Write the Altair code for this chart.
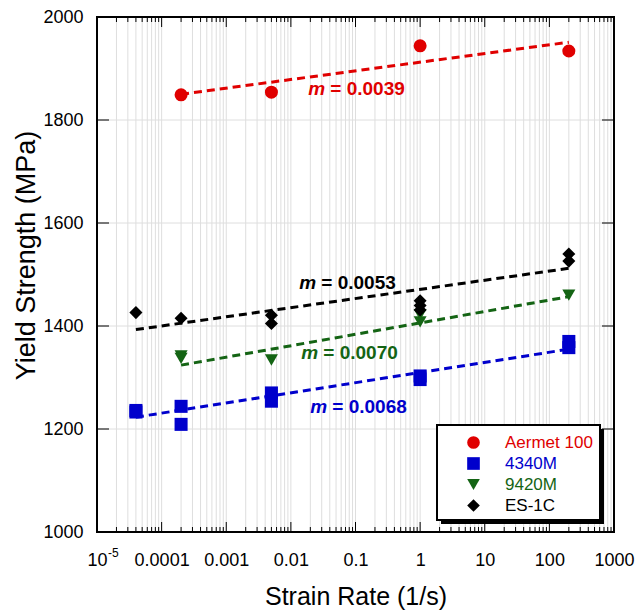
import altair as alt
import pandas as pd

# ---------------- data ----------------
series = ["Aermet 100", "4340M", "9420M", "ES-1C"]
colors = ["#e00000", "#0000cc", "#146414", "#000000"]
shapes = ["circle", "square", "triangle-down", "diamond"]

aermet_rate = [0.0002, 0.005, 1, 200]
aermet_ys = [1849, 1854, 1944, 1934]

m4340_rate = [4e-5, 4e-5, 0.0002, 0.0002, 0.005, 0.005, 1, 1, 200, 200]
m4340_ys = [1233, 1236, 1244, 1209, 1270, 1254, 1303, 1296, 1370, 1358]

m9420_rate = [0.0002, 0.0002, 0.005, 1, 1, 200]
m9420_ys = [1342, 1337, 1334, 1422, 1408, 1460]

es1c_rate = [4e-5, 0.0002, 0.005, 0.005, 1, 1, 1, 200, 200]
es1c_ys = [1426, 1415, 1421, 1405, 1449, 1440, 1431, 1540, 1526]

fit_rate_start = [0.0002, 4e-5, 0.0002, 4e-5]
fit_rate_end = [200, 200, 200, 200]
fit_ys_start = [1850, 1223, 1324, 1393]
fit_ys_end = [1951, 1355, 1457, 1512]

ann_text = ["= 0.0039", "= 0.0068", "= 0.0070", "= 0.0053"]
ann_rate = [0.0186, 0.020, 0.0145, 0.0135]
ann_ys = [1860, 1243, 1348, 1484]

x_ticks = [1e-5, 1e-4, 1e-3, 1e-2, 1e-1, 1, 10, 100, 1000]
x_tick_labels = ["10", "0.0001", "0.001", "0.01", "0.1", "1", "10", "100", "1000"]
x_first_exponent = "-5"
y_ticks = [1000, 1200, 1400, 1600, 1800, 2000]
minor_mult = [2, 3, 4, 5, 6, 7, 8, 9]

# ---------------- tables ----------------
pts = pd.concat([
    pd.DataFrame({"rate": aermet_rate, "ys": aermet_ys, "alloy": series[0]}),
    pd.DataFrame({"rate": m4340_rate, "ys": m4340_ys, "alloy": series[1]}),
    pd.DataFrame({"rate": m9420_rate, "ys": m9420_ys, "alloy": series[2]}),
    pd.DataFrame({"rate": es1c_rate, "ys": es1c_ys, "alloy": series[3]}),
], ignore_index=True)

fits = pd.DataFrame({
    "rate": fit_rate_start + fit_rate_end,
    "ys": fit_ys_start + fit_ys_end,
    "alloy": series + series,
    "col": colors + colors,
})

ann = pd.DataFrame({"rate": ann_rate, "ys": ann_ys, "txt": ann_text, "alloy": series, "col": colors})
sup_df = pd.DataFrame({"rate": [x_ticks[0]], "txt": [x_first_exponent]})

major_inner = pd.DataFrame({"rate": x_ticks[1:-1]})
minor_vals = [m * d for d in x_ticks[:-1] for m in minor_mult]
minor_df = pd.DataFrame({"rate": minor_vals})
all_grid = pd.DataFrame({"rate": x_ticks[1:-1] + minor_vals})
ygrid = pd.DataFrame({"ys": y_ticks[1:-1]})

W, H = 517, 515
FONT = "Liberation Sans"

xscale = alt.Scale(type="log", domain=[1e-5, 1000], nice=False)
yscale = alt.Scale(domain=[1000, 2000], nice=False)
cscale = alt.Scale(domain=series, range=colors)
sscale = alt.Scale(domain=series, range=shapes)

label_expr = "[" + ",".join("'" + s + "'" for s in x_tick_labels) + "][round(log(datum.value)/LN10)+5]"

x_axis = alt.Axis(values=x_ticks, labelExpr=label_expr, grid=False, ticks=False,
                  domain=False, labelFontSize=18, labelPadding=19, labelFont=FONT,
                  titleFont=FONT, titleFontSize=25, titleFontWeight="normal",
                  titlePadding=15, labelColor="black", titleColor="black",
                  labelOverlap=False, labelFlush=False, title="Strain Rate (1/s)")
y_axis = alt.Axis(values=y_ticks, format="d", grid=False, ticks=False, domain=False,
                  labelFontSize=18, labelPadding=14, labelFont=FONT,
                  titleFont=FONT, titleFontSize=27, titleFontWeight="normal",
                  titleX=-71, titleY=238, titleBaseline="middle", titleAlign="center",
                  titleAngle=270,
                  labelColor="black", titleColor="black",
                  labelFlush=False, labelOverlap=False, title="Yield Strength (MPa)")

X = lambda f: alt.X(f + ":Q", scale=xscale, axis=x_axis)
Y = lambda f: alt.Y(f + ":Q", scale=yscale, axis=y_axis)

grid_v = alt.Chart(all_grid).mark_rule(color="#dedede", strokeWidth=1).encode(x=X("rate"))
grid_h = alt.Chart(ygrid).mark_rule(color="#dedede", strokeWidth=1).encode(y=Y("ys"))

def xticks(df, length):
    b = alt.Chart(df).mark_rule(color="black", strokeWidth=1)
    bottom = b.encode(x=X("rate"), y=alt.value(H), y2=alt.value(H - length))
    top = b.encode(x=X("rate"), y=alt.value(0), y2=alt.value(length))
    return [bottom, top]

yt = alt.Chart(ygrid).mark_rule(color="black", strokeWidth=1)
yticks_l = yt.encode(y=Y("ys"), x=alt.value(0), x2=alt.value(12))
yticks_r = yt.encode(y=Y("ys"), x=alt.value(W), x2=alt.value(W - 12))

lines = alt.Chart(fits).mark_line(strokeDash=[8, 5], strokeWidth=3).encode(
    x=X("rate"), y=Y("ys"),
    stroke=alt.Stroke("col:N", scale=None),
    detail="alloy:N",
)

label_color = ("datum.label == '" + series[0] + "' ? '" + colors[0] + "' : datum.label == '"
               + series[1] + "' ? '" + colors[1] + "' : datum.label == '" + series[2]
               + "' ? '" + colors[2] + "' : '" + colors[3] + "'")

leg = alt.Legend(title=None, orient="none", legendX=368, legendY=417,
                 padding=0, labelOffset=23, rowPadding=3,
                 symbolSize=160, labelFontSize=17, labelFont=FONT,
                 labelColor={"expr": label_color}, symbolStrokeWidth=0)

points = alt.Chart(pts).mark_point(filled=True, size=170, opacity=1).encode(
    x=X("rate"), y=Y("ys"),
    color=alt.Color("alloy:N", scale=cscale, sort=series, legend=leg),
    shape=alt.Shape("alloy:N", scale=sscale, sort=series, legend=leg),
)

ann_m = alt.Chart(ann).mark_text(text="m", fontStyle="italic", fontWeight="bold",
                                 fontSize=19, font=FONT, align="left", baseline="middle").encode(
    x=X("rate"), y=Y("ys"),
    fill=alt.Fill("col:N", scale=None),
)
ann_v = alt.Chart(ann).mark_text(fontWeight="bold", fontSize=19, font=FONT,
                                 align="left", baseline="middle", dx=22).encode(
    x=X("rate"), y=Y("ys"),
    text="txt:N",
    fill=alt.Fill("col:N", scale=None),
)

# superscript exponent of the first x tick label
sup = alt.Chart(sup_df).mark_text(fontSize=12, font=FONT, align="left", baseline="top",
                                  dx=11, color="black").encode(
    x=X("rate"), y=alt.value(H + 16), text="txt:N")

# legend box with shadow (decoration)
box_df = pd.DataFrame({"k": [0]})
shadow = alt.Chart(box_df).mark_rect(color="black").encode(
    x=alt.value(344), x2=alt.value(507), y=alt.value(412), y2=alt.value(507))
box = alt.Chart(box_df).mark_rect(fill="white", stroke="black", strokeWidth=2).encode(
    x=alt.value(340), x2=alt.value(503), y=alt.value(408), y2=alt.value(503))

frame = alt.Chart(box_df).mark_rect(fill=None, fillOpacity=0, stroke="black", strokeWidth=2).encode(
    x=alt.value(0), x2=alt.value(W), y=alt.value(0), y2=alt.value(H))

chart = alt.layer(
    grid_v, grid_h,
    *xticks(major_inner, 10), *xticks(minor_df, 5),
    yticks_l, yticks_r,
    lines, points, ann_m, ann_v, sup,
    shadow, box, frame,
).properties(
    width=W, height=H,
    autosize=alt.AutoSizeParams(type="none"),
    padding={"left": 97, "top": 17, "right": 28, "bottom": 79},
).configure_view(stroke=None).configure(background="white")

chart.save("out.html", embed_options={"renderer": "svg", "actions": False})
